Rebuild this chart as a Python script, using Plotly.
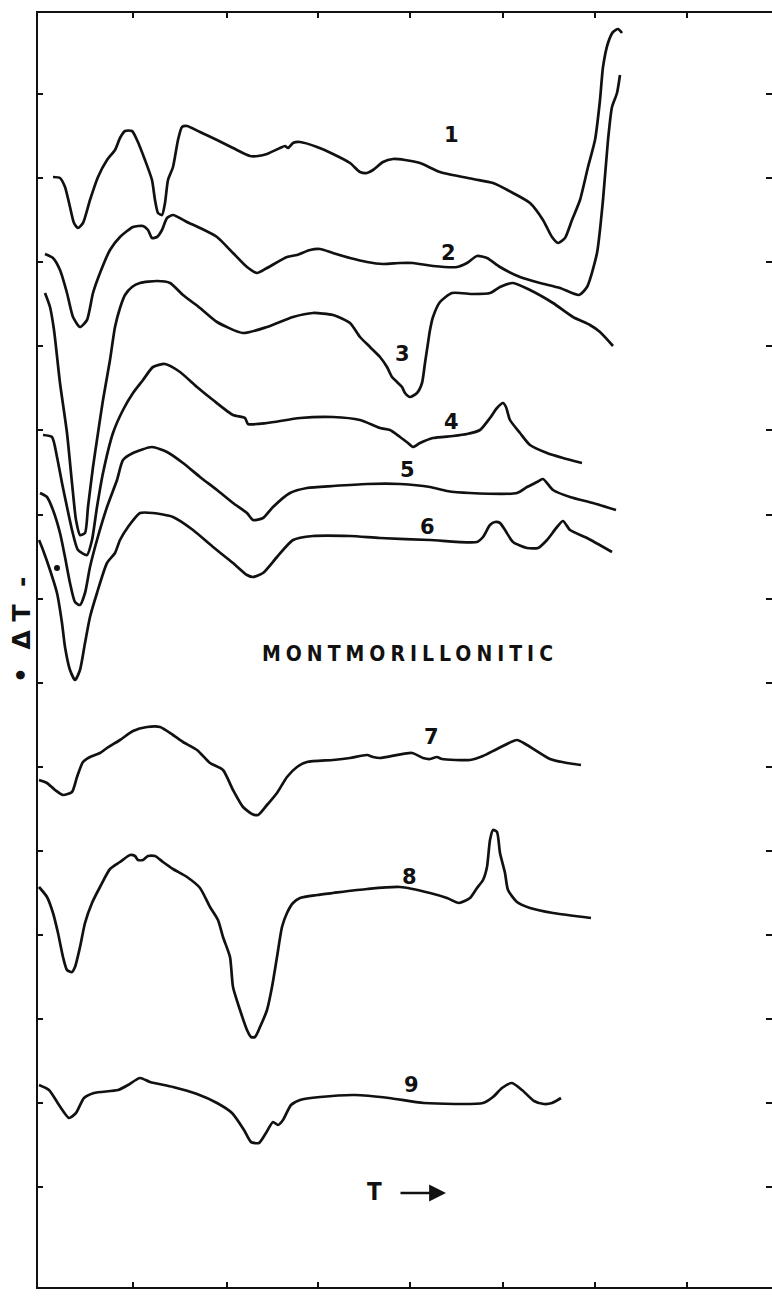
import plotly.graph_objects as go

# Curves (x: temperature reading, y: deflection reading, downward = larger)
c1_x = [53,60,65,70,74,78,83,90,98,107,115,120,125,132,137,145,152,155,158,162,165,168,173,178,182,187,200,217,233,250,258,267,280,285,288,293,300,317,333,350,360,367,373,383,393,405,420,440,473,493,513,530,543,552,558,565,572,580,588,595,600,603,608,613,618,622]
c1_y = [177,178,187,207,223,228,223,200,177,160,150,138,131,131,140,160,180,200,213,215,203,180,167,140,127,126,132,140,148,156,156,154,148,146,148,143,142,147,154,163,172,173,170,162,159,160,163,172,179,183,193,203,220,237,243,238,220,200,167,140,100,67,43,32,29,33]

c2_x = [45,53,60,67,73,80,87,93,100,110,120,133,143,148,152,157,162,167,173,187,200,217,233,247,257,267,287,297,310,320,333,350,367,383,400,413,433,457,467,477,487,500,520,540,560,579,587,597,603,608,612,617,620]
c2_y = [254,258,270,293,317,327,320,293,273,250,237,227,226,230,238,237,230,218,215,222,228,237,253,267,273,268,257,255,250,249,253,258,262,264,263,263,266,267,263,256,258,267,277,283,288,295,287,253,200,140,107,93,75]

c3_x = [45,50,54,60,67,72,76,80,85,88,93,98,103,110,115,120,125,132,140,157,170,183,200,217,243,267,293,313,333,350,360,370,380,387,392,397,402,405,410,417,422,425,428,430,433,440,452,473,490,500,513,530,553,573,590,600,613]
c3_y = [293,307,330,383,433,483,520,535,533,507,467,433,400,360,327,308,295,287,283,281,283,295,308,322,333,327,317,313,315,323,337,347,357,367,377,382,387,393,397,393,383,363,343,330,317,302,293,294,293,287,283,290,303,317,325,332,346]

c4_x = [43,52,57,62,67,72,78,87,92,97,103,113,123,133,143,153,165,180,197,213,233,245,248,267,300,333,360,380,390,400,408,413,420,433,453,467,480,490,497,503,506,510,520,530,547,563,582]
c4_y = [435,437,457,483,507,530,550,555,540,507,473,433,410,393,380,367,364,372,387,400,415,418,424,423,418,417,420,428,430,437,443,447,443,438,436,434,430,418,408,403,407,420,433,445,453,458,463]

c5_x = [40,47,53,60,65,70,75,80,85,90,97,107,117,123,133,152,167,183,200,217,233,247,253,263,273,290,307,333,367,400,430,447,470,517,527,537,543,553,570,593,616]
c5_y = [493,497,510,533,557,583,602,605,593,567,540,507,480,460,453,447,452,463,477,490,503,513,520,518,507,493,488,486,484,484,487,491,493,493,487,482,479,490,497,503,510]

c6_x = [39,43,50,57,62,65,70,75,80,85,90,97,107,115,120,128,140,153,173,193,213,233,247,253,263,277,293,313,350,380,430,477,483,490,495,500,505,513,527,538,547,557,563,570,587,612]
c6_y = [540,550,570,593,623,647,670,680,670,643,617,593,563,553,540,527,513,513,517,530,547,563,575,577,573,557,540,536,536,538,540,542,537,525,522,523,530,542,548,548,540,527,521,530,538,552]

c7_x = [39,47,55,63,72,77,83,90,100,107,120,133,147,160,173,183,197,210,223,233,243,252,258,267,277,287,297,307,333,350,367,373,380,412,423,430,437,442,470,483,497,517,527,550,567,581]
c7_y = [780,783,790,795,792,777,762,757,753,748,740,731,727,727,735,742,750,763,770,790,807,814,815,805,793,777,767,762,760,758,755,757,758,753,758,759,757,759,760,756,749,740,745,759,763,765]

c8_x = [39,47,53,58,63,67,72,75,80,85,92,100,110,120,130,135,138,143,148,155,163,173,187,200,210,218,223,230,233,240,247,251,255,260,267,272,277,282,287,293,300,317,333,367,400,430,447,459,470,477,483,487,490,493,497,500,505,508,517,530,553,591]
c8_y = [887,897,913,933,957,970,972,967,947,923,903,887,869,862,855,856,860,860,856,856,862,869,877,888,907,920,937,957,987,1010,1030,1037,1037,1027,1010,987,957,927,913,903,898,895,893,889,887,893,898,903,898,888,880,867,840,830,832,853,873,890,902,908,913,918]

c9_x = [39,49,59,69,76,84,94,118,128,140,150,173,197,217,232,244,251,259,266,273,278,283,291,300,320,355,389,424,483,493,502,512,522,534,544,552,561]
c9_y = [1085,1090,1105,1118,1113,1098,1093,1090,1085,1078,1082,1087,1094,1103,1113,1130,1142,1143,1133,1122,1125,1120,1105,1100,1097,1095,1098,1103,1103,1097,1088,1083,1090,1101,1104,1103,1098]

curve_names = ["1", "2", "3", "4", "5", "6", "7", "8", "9"]
label_x = [451, 448, 402, 451, 407, 427, 431, 409, 411]
label_y = [135, 253, 354, 422, 470, 527, 737, 877, 1085]

speck_x = [57]
speck_y = [568]

x_ticks = [133, 227, 318, 410, 503, 595, 687]
y_ticks = [94, 178, 262, 346, 430, 515, 599, 683, 767, 851, 935, 1019, 1103, 1187]

X_RANGE = [38, 772]
Y_RANGE = [1287, 13]

curves_x = [c1_x, c2_x, c3_x, c4_x, c5_x, c6_x, c7_x, c8_x, c9_x]
curves_y = [c1_y, c2_y, c3_y, c4_y, c5_y, c6_y, c7_y, c8_y, c9_y]

INK = "#111111"
fig = go.Figure()
for name, xs, ys in zip(curve_names, curves_x, curves_y):
    fig.add_trace(go.Scatter(x=xs, y=ys, mode="lines", name=name,
                             line=dict(color=INK, width=2.7, shape="spline", smoothing=0.6),
                             showlegend=False, hoverinfo="skip"))

fig.add_trace(go.Scatter(x=speck_x, y=speck_y, mode="markers", yaxis="y2",
                         marker=dict(color=INK, size=6), showlegend=False, hoverinfo="skip"))

digit_font = dict(family="DejaVu Sans", size=21, color=INK)
annotations = []
for name, lx, ly in zip(curve_names, label_x, label_y):
    annotations.append(dict(x=lx, y=ly, xref="x", yref="y", text="<b>%s</b>" % name,
                            showarrow=False, font=digit_font, xanchor="center", yanchor="middle"))

annotations.append(dict(x=410, y=654, xref="x", yref="y",
                        text='<b><span style="letter-spacing:5px">MONTMORILLONITIC</span></b>',
                        showarrow=False, xanchor="center", yanchor="middle",
                        font=dict(family="DejaVu Sans Condensed, DejaVu Sans", size=21, color=INK)))
annotations.append(dict(x=0, y=630, xref="paper", yref="y", xshift=-17, text="<b>•  Δ T  -</b>",
                        textangle=-90, showarrow=False, xanchor="center", yanchor="middle",
                        font=dict(family="DejaVu Sans", size=25, color=INK)))
annotations.append(dict(x=374, y=1192, xref="x", yref="y", text="<b>T</b>",
                        showarrow=False, xanchor="center", yanchor="middle",
                        font=dict(family="DejaVu Sans Condensed, DejaVu Sans", size=24, color=INK)))
annotations.append(dict(x=446, y=1193, xref="x", yref="y", ax=399, ay=1193, axref="x", ayref="y",
                        text="", showarrow=True, arrowhead=2, arrowsize=1.3, arrowwidth=2.6,
                        arrowcolor=INK, standoff=0, startstandoff=0))

axis_common = dict(showgrid=False, zeroline=False, showticklabels=False,
                   ticks="inside", tickwidth=2, tickcolor=INK)

fig.update_layout(
    width=772, height=1297,
    margin=dict(l=38, r=0, t=13, b=10, pad=0),
    paper_bgcolor="white", plot_bgcolor="white",
    xaxis=dict(range=X_RANGE, tickvals=x_ticks, ticklen=5, showline=True, linewidth=2,
               linecolor=INK, mirror="ticks", **axis_common),
    yaxis=dict(range=Y_RANGE, tickvals=y_ticks, ticklen=5, showline=True, linewidth=2,
               linecolor=INK, mirror=False, **axis_common),
    yaxis2=dict(range=Y_RANGE, tickvals=y_ticks, ticklen=6, overlaying="y", side="right",
                showline=False, **axis_common),
    annotations=annotations,
)

fig.write_html("out.html", config={"displayModeBar": False},
               post_script="document.body.style.margin='0';document.body.style.overflow='hidden';")
